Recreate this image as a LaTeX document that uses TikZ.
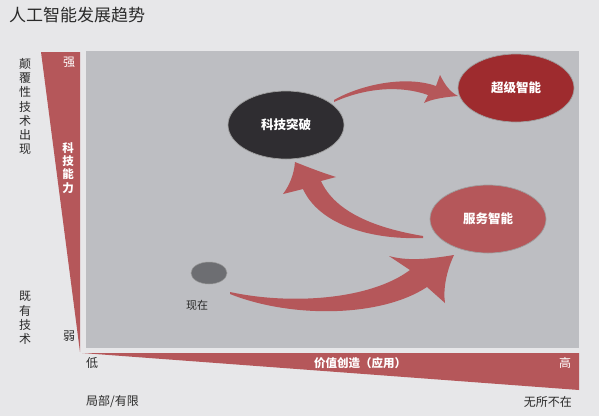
\documentclass[tikz,border=0pt]{standalone}
\usepackage{fontspec}
\setmainfont{Noto Sans CJK SC}
\usetikzlibrary{shapes.geometric}
\definecolor{bgc}{HTML}{E7E7E9}
\definecolor{panelc}{HTML}{BDBEC2}
\definecolor{redc}{HTML}{B5575A}
\definecolor{darkred}{HTML}{9E2B2E}
\definecolor{darkc}{HTML}{2F2D31}
\definecolor{nowc}{HTML}{6D6E72}
\definecolor{txtc}{HTML}{2A2A2A}
\tikzset{
  blob/.style={ellipse, draw=gray!75, line width=0.7pt, minimum width=116pt, minimum height=68pt, inner sep=0pt, text=white, font=\fontsize{12.5}{14}\selectfont\bfseries},
  arr/.style={fill=redc},
  lbl/.style={text=txtc, font=\fontsize{12}{14}\selectfont, inner sep=0pt},
  vlbl/.style={text=txtc, align=center, inner sep=0pt, font=\fontsize{12}{14.2}\selectfont},
  wlbl/.style={text=white, inner sep=0pt, font=\fontsize{12}{14}\selectfont}
}
\begin{document}
\begin{tikzpicture}[x=1pt,y=-1pt]
\useasboundingbox (0,0) rectangle (599,416);
\fill[bgc] (0,0) rectangle (599,416);
% title
\node[anchor=west, text=txtc, inner sep=0pt, font=\fontsize{17}{20}\selectfont] (title) at (9,15) {人工智能发展趋势};
% panel
\fill[panelc] (86,51) rectangle (579,348);
% triangles
\fill[redc] (41,52) -- (80,52) -- (80,352) -- cycle;
\fill[redc] (82,353) -- (579,353) -- (579,390) -- cycle;
% axis labels
\node[vlbl] (disrupt) at (25,106.5) {颠\\覆\\性\\技\\术\\出\\现};
\node[vlbl] (exist) at (25,318) {既\\有\\技\\术};
\node[wlbl] (strong) at (69,62) {强};
\node[lbl] (weak) at (69,336) {弱};
\node[wlbl, align=center, font=\fontsize{11.5}{13.3}\selectfont\bfseries] (tech) at (68,168) {科\\技\\能\\力};
\node[lbl] (low) at (92,363) {低};
\node[wlbl, font=\fontsize{11.5}{14}\selectfont\bfseries] (value) at (360,363) {价值创造（应用）};
\node[wlbl] (high) at (565,363) {高};
\node[lbl, anchor=west] (local) at (86,401) {局部/有限};
\node[lbl, anchor=east] (every) at (572,402) {无所不在};
% arrows
\fill[arr] (230,292) .. controls (290,305) and (370,300) .. (410,270) -- (389,256)
  .. controls (410,262) and (435,258) .. (454,255)
  .. controls (446,272) and (443,290) .. (445,303) -- (427,287)
  .. controls (380,318) and (290,318) .. (230,294) -- cycle;
\fill[arr] (423,236) .. controls (375,228) and (335,212) .. (321,181) -- (336,177)
  .. controls (320,172) and (305,166) .. (295,162)
  .. controls (294,175) and (289,186) .. (283,194) -- (303,189)
  .. controls (318,222) and (365,240) .. (423,238) -- cycle;
\fill[arr] (334,100) .. controls (360,85) and (405,75) .. (436,86) -- (440,75)
  .. controls (445,85) and (450,92) .. (458,96)
  .. controls (445,97) and (432,99) .. (424,103) -- (428,95)
  .. controls (400,85) and (365,88) .. (334,102) -- cycle;
% ellipses
\node[blob, fill=darkc] (tb) at (286,125) {科技突破};
\node[blob, fill=darkred] (si) at (516,88) {超级智能};
\node[blob, fill=redc] (fw) at (488,219) {服务智能};
\node[ellipse, fill=nowc, draw=gray!80, line width=0.5pt, minimum width=36pt, minimum height=22pt, inner sep=0pt] (now) at (209,273) {};
\node[lbl, font=\fontsize{11}{13}\selectfont] (nowl) at (197,305) {现在};
\end{tikzpicture}
\end{document}
